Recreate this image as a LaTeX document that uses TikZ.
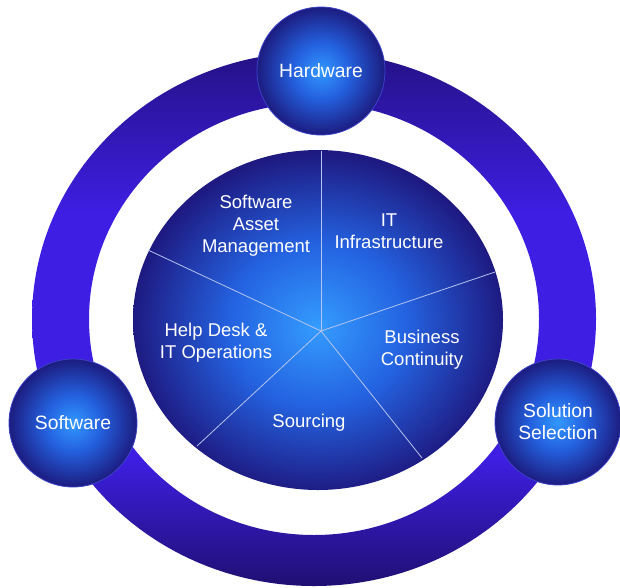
\documentclass[tikz,border=0pt]{standalone}
\usepackage{fontspec}
\setmainfont{Liberation Sans}
\usetikzlibrary{shapes.geometric}
\definecolor{ringtop}{RGB}{36,18,134}
\definecolor{ringmid}{RGB}{62,30,226}
\definecolor{ringbot}{RGB}{32,15,114}
\definecolor{ballc}{RGB}{50,152,255}
\definecolor{ballm}{RGB}{36,96,222}
\definecolor{balle}{RGB}{28,28,128}
\definecolor{ballrim}{RGB}{60,66,200}
\definecolor{diskc}{RGB}{52,156,255}
\definecolor{diskm}{RGB}{36,98,224}
\definecolor{diske}{RGB}{30,26,130}
\definecolor{pieline}{RGB}{180,196,238}
\pgfdeclareradialshading{ballshade}{\pgfpoint{0bp}{0bp}}{color(0bp)=(ballc); color(11bp)=(ballm); color(25bp)=(balle); color(50bp)=(balle)}
\pgfdeclareradialshading{diskshade}{\pgfpoint{0bp}{-1bp}}{color(0bp)=(diskc); color(12bp)=(diskm); color(25bp)=(diske); color(50bp)=(diske)}
\pgfdeclareverticalshading{ringshade}{100bp}{color(0bp)=(ringbot); color(25bp)=(ringbot); color(37bp)=(ringmid); color(60bp)=(ringmid); color(75bp)=(ringtop); color(100bp)=(ringtop)}
\tikzset{
  ball/.style={circle, shading=ballshade, draw=ballrim, line width=0.8pt,
    minimum size=128pt, inner sep=0pt, text=white, align=center,
    font=\fontsize{19.3pt}{22pt}\selectfont},
  lbl/.style={text=white, align=center, inner sep=0pt,
    font=\fontsize{18.5pt}{22pt}\selectfont},
  pie/.style={draw=pieline, line width=0.8pt},
  ringfill/.style={even odd rule, shading=ringshade}
}
\begin{document}
\begin{tikzpicture}[x=1pt,y=-1pt]
\useasboundingbox[fill=white] (0,0) rectangle (620,587);
% ring
\shade[ringfill] (314,319) ellipse [x radius=282pt, y radius=267pt]
                 (314,319) ellipse [x radius=225pt, y radius=216pt];
% inner disk
\node[ellipse, shading=diskshade, minimum width=370pt, minimum height=340pt, inner sep=0pt] (disk) at (318,320) {};
\coordinate (pc) at (321,331);
\coordinate (e1) at (321,151);
\coordinate (e2) at (495,272);
\coordinate (e3) at (422,458);
\coordinate (e4) at (197,446);
\coordinate (e5) at (148,250);
\draw[pie] (pc) -- (e1);
\draw[pie] (pc) -- (e2);
\draw[pie] (pc) -- (e3);
\draw[pie] (pc) -- (e4);
\draw[pie] (pc) -- (e5);
% segment labels
\node[lbl] (sam) at (256,226) {Software\\Asset\\Management};
\node[lbl] (iti) at (389,231) {IT\\Infrastructure};
\node[lbl] (bc) at (422,350) {Business\\Continuity};
\node[lbl] (src) at (309,423) {Sourcing};
\node[lbl] (hd) at (216,343) {Help Desk \&\\IT Operations};
% outer balls
\node[ball] (hw) at (321,71) {Hardware};
\node[ball] (sw) at (73,423) {Software};
\node[ball, minimum size=126pt] (ss) at (558,422) {Solution\\Selection};
\end{tikzpicture}
\end{document}
